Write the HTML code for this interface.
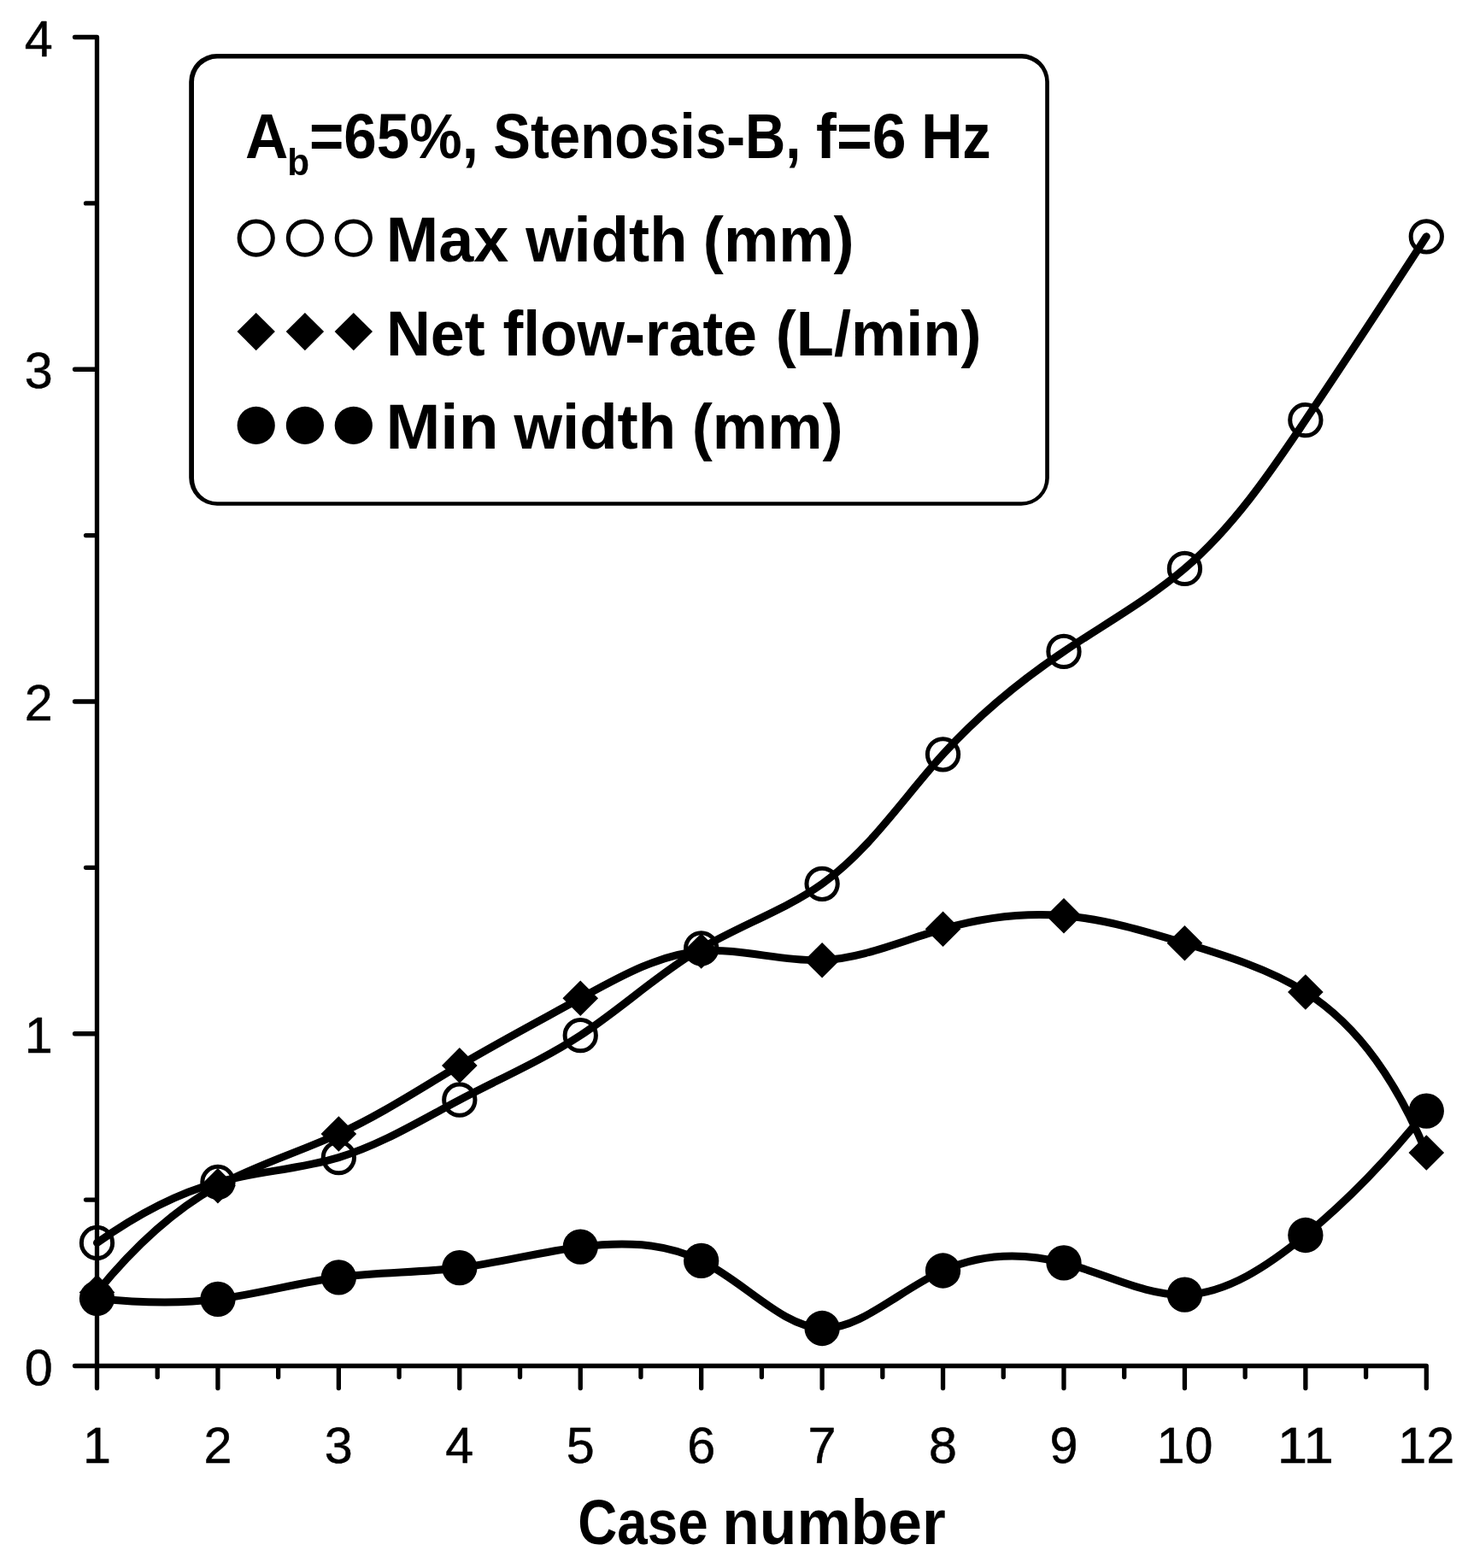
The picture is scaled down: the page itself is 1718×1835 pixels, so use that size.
<!DOCTYPE html>
<html lang="en"><head><meta charset="utf-8"><title>Case number chart</title>
<style>
html,body{margin:0;padding:0;background:#fff;}
body{width:1718px;height:1835px;overflow:hidden;}
svg{display:block;}
text{font-family:"Liberation Sans",sans-serif;fill:#000;}
.b{font-weight:bold;}
.d{stroke:#000;stroke-width:0.5;stroke-linejoin:round;}
.ax{stroke:#000;stroke-width:5.30;fill:none;stroke-linecap:round;stroke-linejoin:round;}
.ln{stroke:#000;stroke-width:9.00;fill:none;stroke-linecap:round;stroke-linejoin:round;}
.oc{stroke:#000;stroke-width:5;fill:none;}
.fm{fill:#000;stroke:none;}
</style></head><body>
<svg width="1718" height="1835" viewBox="0 0 1718 1835">
<rect x="0" y="0" width="1718" height="1835" fill="#fff"/>
<path class="ax" d="M113.50,43.50V1624.50M87.50,1598.50H1669.30M87.50,1209.75H113.50M87.50,821.00H113.50M87.50,432.25H113.50M87.50,43.50H113.50M100.50,1404.12H113.50M100.50,1015.38H113.50M100.50,626.62H113.50M100.50,237.88H113.50M254.94,1598.50V1624.50M396.37,1598.50V1624.50M537.81,1598.50V1624.50M679.25,1598.50V1624.50M820.68,1598.50V1624.50M962.12,1598.50V1624.50M1103.55,1598.50V1624.50M1244.99,1598.50V1624.50M1386.43,1598.50V1624.50M1527.86,1598.50V1624.50M1669.30,1598.50V1624.50M184.22,1598.50V1611.50M325.65,1598.50V1611.50M467.09,1598.50V1611.50M608.53,1598.50V1611.50M749.96,1598.50V1611.50M891.40,1598.50V1611.50M1032.84,1598.50V1611.50M1174.27,1598.50V1611.50M1315.71,1598.50V1611.50M1457.15,1598.50V1611.50M1598.58,1598.50V1611.50"/>
<path fill="#000" fill-rule="evenodd" d="M254.00,63.00H1195.10A32.80,32.80 0 0 1 1227.90,95.80V559.00A32.80,32.80 0 0 1 1195.10,591.80H254.00A32.80,32.80 0 0 1 221.20,559.00V95.80A32.80,32.80 0 0 1 254.00,63.00ZM254.20,68.60H1196.00A27.20,27.20 0 0 1 1223.20,95.80V560.10A27.20,27.20 0 0 1 1196.00,587.30H254.20A27.20,27.20 0 0 1 227.00,560.10V95.80A27.20,27.20 0 0 1 254.20,68.60Z"/>
<path class="ln" d="M113.50,1454.50C157.90,1422.89 204.36,1397.24 254.94,1383.50C301.07,1370.96 350.62,1368.34 396.37,1354.60C446.03,1339.69 491.19,1311.69 537.81,1287.20C585.51,1262.14 634.72,1240.75 679.25,1211.70C727.64,1180.12 770.49,1139.49 820.68,1109.90C866.88,1082.66 919.30,1064.78 962.12,1034.30C1017.46,994.91 1056.77,934.50 1103.55,882.80C1145.48,836.46 1193.41,797.12 1244.99,762.40C1292.62,730.34 1343.37,702.23 1386.43,665.40C1442.68,617.28 1485.79,554.28 1527.86,491.60C1576.15,419.66 1623.07,348.12 1669.30,276.80"/>
<path class="ln" d="M113.50,1512.40C154.86,1461.49 200.55,1417.61 254.94,1387.80C299.35,1363.46 349.56,1348.50 396.37,1327.00C445.79,1304.30 491.43,1274.32 537.81,1246.90C583.98,1219.61 630.90,1194.86 679.25,1168.30C724.61,1143.37 771.23,1116.86 820.68,1113.00C866.87,1109.40 915.52,1125.57 962.12,1123.70C1010.11,1121.78 1055.92,1100.73 1103.55,1087.20C1149.96,1074.02 1198.09,1067.98 1244.99,1071.70C1292.79,1075.50 1339.31,1089.44 1386.43,1103.80C1435.99,1118.90 1486.23,1134.46 1527.86,1161.00C1592.06,1201.92 1635.80,1268.94 1669.30,1349.00"/>
<path class="ln" d="M113.50,1519.40C161.11,1524.63 208.37,1526.19 254.94,1520.40C302.26,1514.52 348.85,1501.06 396.37,1494.80C443.28,1488.62 491.08,1489.46 537.81,1483.70C585.09,1477.87 631.28,1465.28 679.25,1459.20C726.82,1453.17 776.14,1453.54 820.68,1475.40C871.38,1500.28 915.87,1553.00 962.12,1554.50C1006.84,1555.95 1053.20,1509.51 1103.55,1487.00C1149.09,1466.64 1197.90,1465.86 1244.99,1477.90C1293.59,1490.33 1340.36,1516.43 1386.43,1515.20C1436.08,1513.88 1484.91,1480.80 1527.86,1445.50C1583.12,1400.09 1628.64,1351.01 1669.30,1300.10"/>
<g class="oc"><circle cx="113.50" cy="1454.50" r="18.15"/><circle cx="254.94" cy="1383.50" r="18.15"/><circle cx="396.37" cy="1354.60" r="18.15"/><circle cx="537.81" cy="1287.20" r="18.15"/><circle cx="679.25" cy="1211.70" r="18.15"/><circle cx="820.68" cy="1109.90" r="18.15"/><circle cx="962.12" cy="1034.30" r="18.15"/><circle cx="1103.55" cy="882.80" r="18.15"/><circle cx="1244.99" cy="762.40" r="18.15"/><circle cx="1386.43" cy="665.40" r="18.15"/><circle cx="1527.86" cy="491.60" r="18.15"/><circle cx="1669.30" cy="276.80" r="18.15"/></g>
<g class="fm"><path d="M113.50,1491.60L134.30,1512.40L113.50,1533.20L92.70,1512.40Z"/><path d="M254.94,1367.00L275.74,1387.80L254.94,1408.60L234.14,1387.80Z"/><path d="M396.37,1306.20L417.17,1327.00L396.37,1347.80L375.57,1327.00Z"/><path d="M537.81,1226.10L558.61,1246.90L537.81,1267.70L517.01,1246.90Z"/><path d="M679.25,1147.50L700.05,1168.30L679.25,1189.10L658.45,1168.30Z"/><path d="M820.68,1092.20L841.48,1113.00L820.68,1133.80L799.88,1113.00Z"/><path d="M962.12,1102.90L982.92,1123.70L962.12,1144.50L941.32,1123.70Z"/><path d="M1103.55,1066.40L1124.35,1087.20L1103.55,1108.00L1082.75,1087.20Z"/><path d="M1244.99,1050.90L1265.79,1071.70L1244.99,1092.50L1224.19,1071.70Z"/><path d="M1386.43,1083.00L1407.23,1103.80L1386.43,1124.60L1365.63,1103.80Z"/><path d="M1527.86,1140.20L1548.66,1161.00L1527.86,1181.80L1507.06,1161.00Z"/><path d="M1669.30,1328.20L1690.10,1349.00L1669.30,1369.80L1648.50,1349.00Z"/></g>
<g class="fm"><circle cx="113.50" cy="1519.40" r="20.65"/><circle cx="254.94" cy="1520.40" r="20.65"/><circle cx="396.37" cy="1494.80" r="20.65"/><circle cx="537.81" cy="1483.70" r="20.65"/><circle cx="679.25" cy="1459.20" r="20.65"/><circle cx="820.68" cy="1475.40" r="20.65"/><circle cx="962.12" cy="1554.50" r="20.65"/><circle cx="1103.55" cy="1487.00" r="20.65"/><circle cx="1244.99" cy="1477.90" r="20.65"/><circle cx="1386.43" cy="1515.20" r="20.65"/><circle cx="1527.86" cy="1445.50" r="20.65"/><circle cx="1669.30" cy="1300.10" r="20.65"/></g>
<g class="oc"><circle cx="299.70" cy="278.6" r="19.6"/><circle cx="356.90" cy="278.6" r="19.6"/><circle cx="413.80" cy="278.6" r="19.6"/></g>
<g class="fm"><path d="M299.70,365.90L321.90,388.10L299.70,410.30L277.50,388.10Z"/><path d="M356.90,365.90L379.10,388.10L356.90,410.30L334.70,388.10Z"/><path d="M413.80,365.90L436.00,388.10L413.80,410.30L391.60,388.10Z"/></g>
<g class="fm"><circle cx="299.70" cy="497.9" r="22.1"/><circle cx="356.90" cy="497.9" r="22.1"/><circle cx="413.80" cy="497.9" r="22.1"/></g>
<text font-size="73.50" class="b"><tspan x="287.11" y="185.00" textLength="50.35" lengthAdjust="spacingAndGlyphs">A</tspan><tspan x="336.20" y="204.50" font-size="44.40" textLength="25.91" lengthAdjust="spacingAndGlyphs">b</tspan><tspan x="362.02" y="185.00" textLength="197.88" lengthAdjust="spacingAndGlyphs">=65%,</tspan> <tspan x="577.31" y="185.00" textLength="360.12" lengthAdjust="spacingAndGlyphs">Stenosis-B,</tspan> <tspan x="955.08" y="185.00" textLength="105.41" lengthAdjust="spacingAndGlyphs">f=6</tspan> <tspan x="1078.14" y="185.00" textLength="81.57" lengthAdjust="spacingAndGlyphs">Hz</tspan></text>
<text font-size="73.50" class="b"><tspan x="451.72" y="306.30" textLength="143.44" lengthAdjust="spacingAndGlyphs">Max</tspan> <tspan x="615.27" y="306.30" textLength="189.13" lengthAdjust="spacingAndGlyphs">width</tspan> <tspan x="822.80" y="306.30" textLength="176.77" lengthAdjust="spacingAndGlyphs">(mm)</tspan></text>
<text font-size="73.50" class="b"><tspan x="451.94" y="415.60" textLength="115.83" lengthAdjust="spacingAndGlyphs">Net</tspan> <tspan x="588.39" y="415.60" textLength="297.53" lengthAdjust="spacingAndGlyphs">flow-rate</tspan> <tspan x="907.80" y="415.60" textLength="240.75" lengthAdjust="spacingAndGlyphs">(L/min)</tspan></text>
<text font-size="73.50" class="b"><tspan x="451.45" y="525.10" textLength="132.11" lengthAdjust="spacingAndGlyphs">Min</tspan> <tspan x="601.59" y="525.10" textLength="189.59" lengthAdjust="spacingAndGlyphs">width</tspan> <tspan x="809.75" y="525.10" textLength="176.84" lengthAdjust="spacingAndGlyphs">(mm)</tspan></text>
<text font-size="73.50" class="b"><tspan x="676.17" y="1806.50" textLength="152.45" lengthAdjust="spacingAndGlyphs">Case</tspan> <tspan x="845.28" y="1806.50" textLength="261.52" lengthAdjust="spacingAndGlyphs">number</tspan></text>
<text x="113.50" y="1712.00" font-size="59.60" class="d" text-anchor="middle" textLength="33.00" lengthAdjust="spacingAndGlyphs">1</text>
<text x="254.94" y="1712.00" font-size="59.60" class="d" text-anchor="middle" textLength="33.00" lengthAdjust="spacingAndGlyphs">2</text>
<text x="396.37" y="1712.00" font-size="59.60" class="d" text-anchor="middle" textLength="33.00" lengthAdjust="spacingAndGlyphs">3</text>
<text x="537.81" y="1712.00" font-size="59.60" class="d" text-anchor="middle" textLength="33.00" lengthAdjust="spacingAndGlyphs">4</text>
<text x="679.25" y="1712.00" font-size="59.60" class="d" text-anchor="middle" textLength="33.00" lengthAdjust="spacingAndGlyphs">5</text>
<text x="820.68" y="1712.00" font-size="59.60" class="d" text-anchor="middle" textLength="33.00" lengthAdjust="spacingAndGlyphs">6</text>
<text x="962.12" y="1712.00" font-size="59.60" class="d" text-anchor="middle" textLength="33.00" lengthAdjust="spacingAndGlyphs">7</text>
<text x="1103.55" y="1712.00" font-size="59.60" class="d" text-anchor="middle" textLength="33.00" lengthAdjust="spacingAndGlyphs">8</text>
<text x="1244.99" y="1712.00" font-size="59.60" class="d" text-anchor="middle" textLength="33.00" lengthAdjust="spacingAndGlyphs">9</text>
<text x="1386.43" y="1712.00" font-size="59.60" class="d" text-anchor="middle" textLength="66.00" lengthAdjust="spacingAndGlyphs">10</text>
<text x="1527.86" y="1712.00" font-size="59.60" class="d" text-anchor="middle" textLength="66.00" lengthAdjust="spacingAndGlyphs">11</text>
<text x="1669.30" y="1712.00" font-size="59.60" class="d" text-anchor="middle" textLength="66.00" lengthAdjust="spacingAndGlyphs">12</text>
<text x="45.30" y="1620.50" font-size="59.60" class="d" text-anchor="middle" textLength="33.00" lengthAdjust="spacingAndGlyphs">0</text>
<text x="45.30" y="1231.75" font-size="59.60" class="d" text-anchor="middle" textLength="33.00" lengthAdjust="spacingAndGlyphs">1</text>
<text x="45.30" y="843.00" font-size="59.60" class="d" text-anchor="middle" textLength="33.00" lengthAdjust="spacingAndGlyphs">2</text>
<text x="45.30" y="454.25" font-size="59.60" class="d" text-anchor="middle" textLength="33.00" lengthAdjust="spacingAndGlyphs">3</text>
<text x="45.30" y="65.50" font-size="59.60" class="d" text-anchor="middle" textLength="33.00" lengthAdjust="spacingAndGlyphs">4</text>
</svg></body></html>
